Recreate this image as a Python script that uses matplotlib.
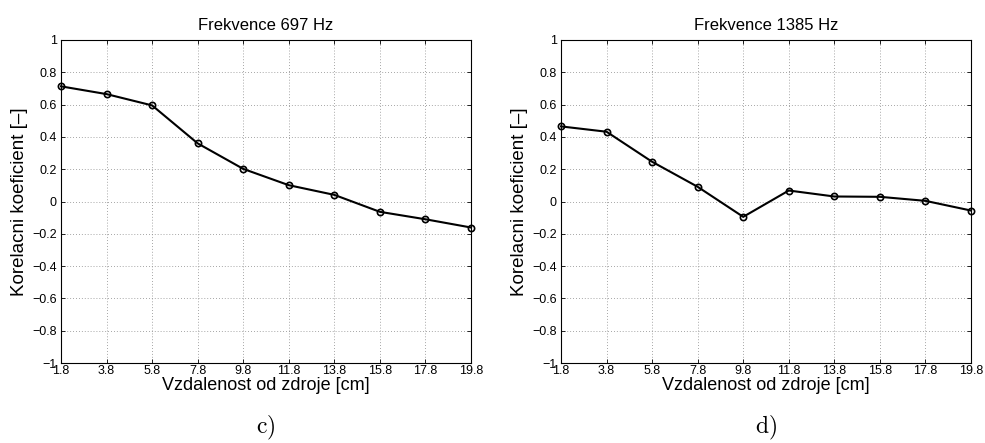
import numpy as np
import matplotlib.pyplot as plt

plt.rcParams["font.family"] = ["Liberation Sans", "DejaVu Sans"]
plt.rcParams["mathtext.fontset"] = "cm"

distance = [1.8, 3.8, 5.8, 7.8, 9.8, 11.8, 13.8, 15.8, 17.8, 19.8]
corr_697 = [0.713, 0.665, 0.595, 0.360, 0.202, 0.101, 0.041, -0.064, -0.110, -0.161]
corr_1385 = [0.465, 0.432, 0.246, 0.091, -0.095, 0.068, 0.031, 0.029, 0.004, -0.056]
y_ticks = [-1, -0.8, -0.6, -0.4, -0.2, 0, 0.2, 0.4, 0.6, 0.8, 1]
y_tick_labels = ["\u22121", "\u22120.8", "\u22120.6", "\u22120.4", "\u22120.2", "0",
                 "0.2", "0.4", "0.6", "0.8", "1"]

panels = [
    ("Frekvence 697 Hz", corr_697, "c)"),
    ("Frekvence 1385 Hz", corr_1385, "d)"),
]

fig = plt.figure(figsize=(9.85, 4.43), dpi=100)

lefts = [61 / 985, 561 / 985]
for left, (title, values, caption) in zip(lefts, panels):
    ax = fig.add_axes([left, 80 / 443, 410 / 985, 323 / 443])
    ax.plot(distance, values, color="black", linewidth=1.5,
            marker="o", markersize=4.5, markerfacecolor="none",
            markeredgecolor="black", markeredgewidth=1.2, clip_on=False, zorder=3)
    ax.set_xlim(1.8, 19.8)
    ax.set_ylim(-1, 1)
    ax.set_xticks(distance)
    ax.set_xticklabels([f"{d:.1f}" for d in distance], fontsize=9)
    ax.set_yticks(y_ticks)
    ax.set_yticklabels(y_tick_labels, fontsize=9)
    ax.tick_params(direction="in", length=3, width=0.6, top=True, right=True)
    ax.tick_params(axis="x", pad=1.5)
    ax.tick_params(axis="y", pad=3)
    ax.grid(True, linestyle=(0, (1, 2.5)), color="#888888", linewidth=0.6)
    for s in ax.spines.values():
        s.set_linewidth(0.8)
    ax.set_title(title, fontsize=12, pad=7)
    ax.set_xlabel("Vzdalenost od zdroje [cm]", fontsize=13, labelpad=0)
    ax.set_ylabel("Korelacni koeficient [\u2013]", fontsize=13.5, labelpad=3)
    fig.text(left + 205 / 985, 1 - 428 / 443, r"$\mathrm{" + caption + "}$",
             fontsize=17, ha="center", va="center")

plt.savefig("out.png", dpi=100)
